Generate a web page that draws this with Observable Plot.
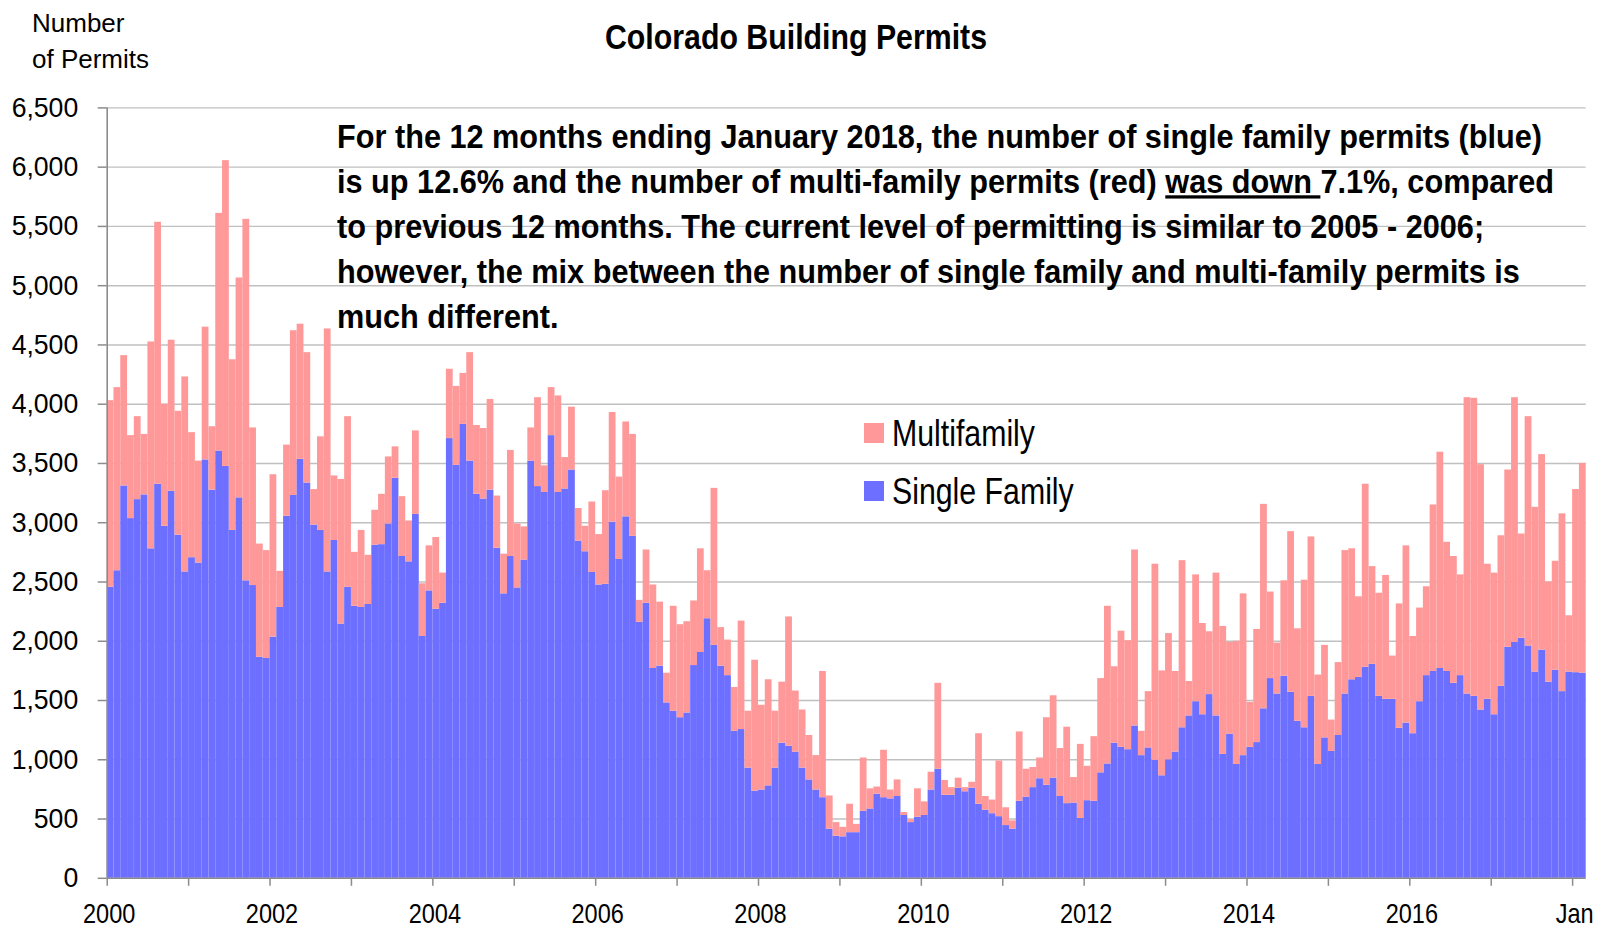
<!DOCTYPE html>
<html>
<head>
<meta charset="utf-8">
<script src="https://cdn.jsdelivr.net/npm/d3@7"></script>
<script src="https://cdn.jsdelivr.net/npm/@observablehq/plot@0.6"></script>
<style>
html, body { margin: 0; padding: 0; background: #fff; }
#chart svg { display: block; }
</style>
</head>
<body>
<div id="chart"></div>
<script>
// Monthly permits, Jan 2000 onward (one value per month)
const singleFamily = [
  2455,2595,3310,3035,3195,3235,2780,3325,2970,3265,2895,2585, // 2000
  2705,2660,3530,3275,3605,3475,2935,3210,2510,2470,1865,1855, // 2001
  2035,2285,3055,3230,3535,3335,2980,2935,2585,2850,2145,2455, // 2002
  2295,2285,2310,2810,2815,2990,3375,2715,2670,3070,2040,2425, // 2003
  2270,2320,3710,3485,3830,3520,3240,3200,3275,2785,2400,2715, // 2004
  2450,2685,3520,3305,3255,3735,3255,3285,3445,2845,2755,2580, // 2005
  2475,2480,3005,2690,3050,2885,2160,2320,1770,1790,1480,1410, // 2006
  1355,1395,1795,1905,2190,1965,1790,1710,1240,1255,930,735,   // 2007
  745,780,930,1140,1115,1065,930,830,745,680,415,355,          // 2008
  350,385,385,565,585,710,680,670,690,530,470,515,             // 2009
  530,745,920,700,700,760,730,760,625,575,545,520,             // 2010
  445,415,650,685,765,840,785,845,690,630,635,505,             // 2011
  655,650,890,965,1140,1105,1085,1285,1035,1100,995,865,       // 2012
  1000,1065,1270,1370,1490,1380,1550,1370,1045,1215,960,1035,  // 2013
  1105,1145,1430,1685,1555,1705,1570,1325,1270,1535,960,1185,  // 2014
  1070,1205,1555,1675,1695,1780,1805,1535,1510,1510,1265,1310, // 2015
  1220,1490,1710,1745,1770,1745,1645,1710,1555,1535,1420,1510, // 2016
  1380,1620,1950,1990,2025,1960,1740,1925,1655,1755,1575,1740, // 2017
  1735,1730                                                    // 2018
];
const multiFamily = [
  1575,1545,1100,700,700,510,1745,2210,1030,1275,1045,1645,    // 2000
  1055,860,1120,535,2005,2580,1440,1855,3050,1330,955,910,     // 2001
  1370,305,600,1390,1140,1100,300,790,2050,545,1220,1440,      // 2002
  455,650,415,295,425,565,265,505,345,705,445,380,             // 2003
  605,255,585,665,430,915,580,595,765,440,335,895,             // 2004
  540,280,280,750,225,405,815,265,530,275,215,595,             // 2005
  425,790,925,695,800,860,185,450,705,540,250,885,             // 2006
  785,770,545,875,405,1325,325,300,370,915,480,1105,           // 2007
  715,895,480,515,1090,515,490,375,290,1065,280,115,           // 2008
  80,240,70,450,170,60,400,75,140,25,25,240,                   // 2009
  115,150,725,125,65,85,35,50,595,115,115,470,                 // 2010
  150,70,585,235,170,175,570,695,405,645,215,625,              // 2011
  290,545,795,1330,645,980,920,1485,205,475,1655,885,          // 2012
  1065,680,1410,290,1070,770,530,1205,1080,775,1040,1365,      // 2013
  380,955,1725,730,430,805,1355,780,1245,1345,755,780,         // 2014
  265,615,1210,1105,680,1545,825,870,1045,365,1050,1495,       // 2015
  820,790,750,1405,1825,1090,1070,850,2500,2515,2070,1140,     // 2016
  1195,1270,1495,2065,880,1935,1390,1650,845,920,1500,475,     // 2017
  1545,1770                                                    // 2018
];

const seriesNames = ["Multifamily", "Single Family"];
const seriesColors = ["#ff9999", "#6c6fff"];

const yTicks = d3.range(0, 6501, 500);
const xTickLabels = ["2000","2002","2004","2006","2008","2010","2012","2014","2016","Jan"];
const xTickMonths = [0, 24, 48, 72, 96, 120, 144, 168, 192, 216];
const yearTickMonths = d3.range(0, 217, 12);

const titleText = "Colorado Building Permits";
const yLabelLines = ["Number", "of Permits"];
const noteLines = [
  [["For the 12 months ending January 2018, the number of single family permits (blue)", false]],
  [["is up 12.6% and the number of multi-family permits (red) ", false], ["was down ", true], ["7.1%, compared", false]],
  [["to previous 12 months. The current level of permitting is similar to 2005 - 2006;", false]],
  [["however, the mix between the number of single family and multi-family permits is", false]],
  [["much different.", false]]
];

// Build stacked table
const rows = [];
singleFamily.forEach((sf, i) => {
  rows.push({month: i, series: "Single Family", lo: 0, hi: sf});
  rows.push({month: i, series: "Multifamily", lo: sf, hi: sf + multiFamily[i]});
});
const labelAt = new Map(xTickMonths.map((m, k) => [m, xTickLabels[k]]));

const FONT = "'Liberation Sans', Arial, Helvetica, sans-serif";
const AXIS = "#8c8c8c";

const chart = Plot.plot({
  width: 1604,
  height: 931,
  marginTop: 107.4,
  marginRight: 18.3,
  marginBottom: 53.2,
  marginLeft: 106.7,
  style: {fontFamily: FONT, background: "#fff", color: "#000"},
  x: {type: "linear", domain: [0, singleFamily.length], axis: null, label: null},
  y: {domain: [0, 6500], axis: null, label: null},
  color: {domain: seriesNames, range: seriesColors},
  marks: [
    Plot.gridY(yTicks.slice(1), {stroke: "#c0c0c0", strokeOpacity: 1, strokeWidth: 1.4}),
    Plot.rect(rows, {x1: "month", x2: d => d.month + 1, y1: "lo", y2: "hi", fill: "series"}),
    Plot.ruleX([0], {stroke: AXIS, strokeWidth: 1.6}),
    Plot.ruleY([0], {stroke: AXIS, strokeWidth: 1.6}),
    Plot.axisY(yTicks, {anchor: "left", label: null, tickSize: 9, tickPadding: 20, fontSize: 28,
      tickFormat: d3.format(","), stroke: AXIS, strokeWidth: 1.5, fill: "#000"}),
    Plot.axisX(yearTickMonths, {anchor: "bottom", label: null, tickSize: 8, tickFormat: () => "",
      stroke: AXIS, strokeWidth: 1.5}),
    Plot.axisX(xTickMonths, {anchor: "bottom", label: null, tickSize: 0, tickPadding: 25, fontSize: 28,
      tickFormat: d => labelAt.get(d), fill: "#000", dx: 2})
  ]
});

document.getElementById("chart").append(chart);

const svg = d3.select(chart);
function squeezeBy(node, k) {
  const w = node.getComputedTextLength();
  if (w > 0) {
    node.setAttribute("textLength", (w * k).toFixed(2));
    node.setAttribute("lengthAdjust", "spacingAndGlyphs");
  }
}
function squeezeTo(node, target) {
  const w = node.getComputedTextLength();
  if (w > 0) squeezeBy(node, target / w);
  return w > 0 ? target / w : 1;
}
svg.selectAll("g[aria-label='y-axis tick label'] text").each(function() { squeezeBy(this, 0.95); });
svg.selectAll("g[aria-label='x-axis tick label'] text").each(function() { squeezeBy(this, 0.84); });

const g = svg.append("g").attr("font-family", FONT).attr("fill", "#000").attr("text-anchor", "start");

// y-axis title
yLabelLines.forEach((t, k) => {
  g.append("text").attr("x", 32).attr("y", 31.7 + k * 36.6).attr("font-size", 26).text(t);
});

// chart title
const title = g.append("text").attr("x", 796).attr("y", 49).attr("text-anchor", "middle")
  .attr("font-size", 35).attr("font-weight", "bold").text(titleText);
squeezeTo(title.node(), 382);

// annotation
let noteK = null;
noteLines.forEach((segs, k) => {
  const t = g.append("text").attr("x", 337).attr("y", 148.3 + k * 45)
    .attr("font-size", 32.6).attr("font-weight", "bold");
  segs.forEach(([s, u]) => {
    const ts = t.append("tspan").text(s);
    if (u) ts.attr("text-decoration", "underline");
  });
  if (noteK === null) noteK = squeezeTo(t.node(), 1205);
  else squeezeBy(t.node(), noteK);
});

// legend
const legendY = [423, 481];
let legK = null;
seriesNames.forEach((name, k) => {
  g.append("rect").attr("x", 864).attr("y", legendY[k]).attr("width", 20).attr("height", 20)
    .attr("fill", seriesColors[k]);
  const t = g.append("text").attr("x", 892).attr("y", legendY[k] + 23.2).attr("font-size", 37).text(name);
  if (legK === null) legK = squeezeTo(t.node(), 143);
  else squeezeBy(t.node(), legK);
});
</script>
</body>
</html>
